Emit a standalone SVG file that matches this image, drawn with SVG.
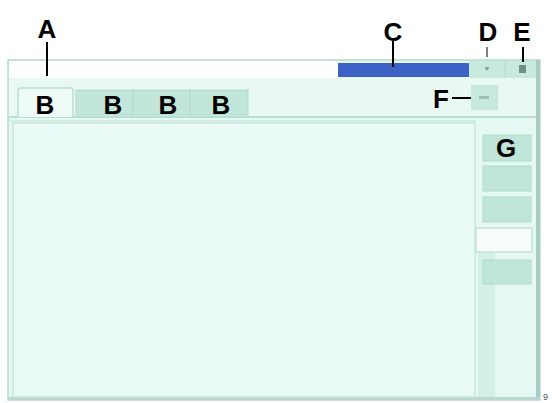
<svg xmlns="http://www.w3.org/2000/svg" width="552" height="403" viewBox="0 0 552 403">
<style>
.lbl{font-family:"Liberation Sans",Arial,sans-serif;font-weight:bold;font-size:26px;fill:#000;text-anchor:middle}
.ln{stroke:#000;stroke-width:2;fill:none}
.btn{fill:#bfe6d8;stroke:#b0dccb;stroke-width:1}
.tab{fill:#c2e7da;stroke:#afdacb;stroke-width:1}
</style>
<rect width="552" height="403" fill="#fff"/>
<g id="window">
<rect x="8" y="60" width="532" height="340" fill="#e6f8f3" stroke="#b5d9cf" stroke-width="1.5"/>
<rect x="536" y="60" width="4" height="340" fill="#a9cdc4"/>
<rect x="8" y="397" width="532" height="3" fill="#b9d8cf"/>
<rect x="9" y="61" width="329" height="17" fill="#fefefe"/>
<rect x="469" y="61" width="67" height="17" fill="#c6ebdd"/>
<line x1="505" y1="61" x2="505" y2="78" stroke="#b3dccd"/>
<rect x="9" y="78" width="527" height="40" fill="#e9f8f3"/>
<line x1="9" y1="117" x2="536" y2="117" stroke="#b8dfd2" stroke-width="2"/>
<line x1="9" y1="121" x2="476" y2="121" stroke="#cdeae1" stroke-width="1.5"/>
</g>
<g id="C">
<rect x="338" y="63" width="131" height="14" fill="#3d62c6"/>
</g>
<g id="D">
<path d="M485 67 h4 l-1 3 h-2 z" fill="#7f9f95"/>
</g>
<g id="E">
<rect x="519" y="65" width="7" height="8" fill="#6f8f86"/>
</g>
<g id="tabs">
<path d="M14 117 h4 v-26 q0 -3 3 -3 h49 q3 0 3 3 v26 h3" fill="#eefbf7" stroke="#b8dfd2" stroke-width="1.5"/>
<rect x="76" y="90" width="57" height="25" class="tab"/>
<rect x="133" y="90" width="57" height="25" class="tab"/>
<rect x="190" y="90" width="58" height="25" class="tab"/>
<text x="45" y="114" class="lbl">B</text>
<text x="113" y="114" class="lbl">B</text>
<text x="168" y="114" class="lbl">B</text>
<text x="221" y="114" class="lbl">B</text>
</g>
<g id="F">
<rect x="471" y="85" width="27" height="25" fill="#c7e9dc"/>
<rect x="479" y="96" width="10" height="3" fill="#9fbfb5"/>
</g>
<g id="content">
<rect x="13" y="123" width="462" height="274" fill="#e9faf6" stroke="#c6e6dc" stroke-width="1.5"/>
</g>
<g id="sidebar">
<rect x="476" y="123" width="60" height="274" fill="#e6f8f3"/>
<rect x="478" y="252" width="17" height="145" fill="#d3f0e8"/>
<rect x="483" y="135" width="48" height="26" class="btn"/>
<rect x="483" y="166" width="48" height="25" class="btn"/>
<rect x="483" y="197" width="48" height="25" class="btn"/>
<rect x="476" y="228" width="56" height="24" fill="#f6fdfb" stroke="#c2e2d8" stroke-width="1.5"/>
<rect x="483" y="260" width="48" height="24" class="btn"/>
<text x="506" y="157" class="lbl">G</text>
</g>
<g id="connectors">
<line x1="47" y1="42" x2="47" y2="76" class="ln"/>
<line x1="393" y1="40" x2="393" y2="67" class="ln"/>
<line x1="487" y1="47" x2="487" y2="57" stroke="#000" stroke-width="1"/>
<line x1="523" y1="47" x2="523" y2="62" class="ln"/>
<line x1="452" y1="98" x2="471" y2="98" class="ln"/>
</g>
<g id="labels">
<text x="47" y="38" class="lbl">A</text>
<text x="393" y="41" class="lbl">C</text>
<text x="488" y="41" class="lbl">D</text>
<text x="522" y="41" class="lbl">E</text>
<text x="441" y="108" class="lbl">F</text>
<text x="543" y="400" font-family="Liberation Sans,Arial,sans-serif" font-size="9" fill="#555">9</text>
</g>
</svg>
